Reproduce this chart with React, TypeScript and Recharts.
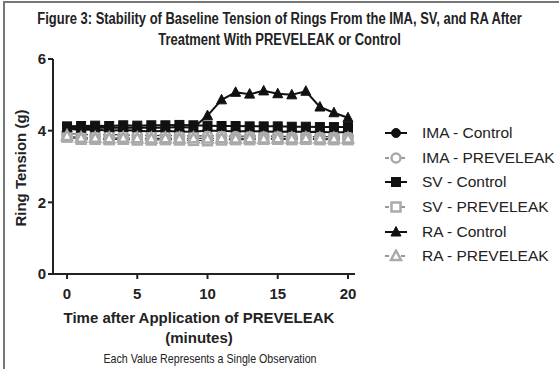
import React from 'react';
import { LineChart, Line, XAxis, YAxis } from 'recharts';

const minutes = [0, 1, 2, 3, 4, 5, 6, 7, 8, 9, 10, 11, 12, 13, 14, 15, 16, 17, 18, 19, 20];
const imaControl = [4.05, 4.02, 4.03, 4.0, 4.02, 4.0, 3.98, 4.0, 3.97, 3.98, 4.0, 4.0, 3.98, 3.99, 3.98, 3.97, 3.98, 3.96, 3.97, 3.95, 3.96];
const imaPreveleak = [3.92, 3.9, 3.88, 3.9, 3.87, 3.88, 3.86, 3.87, 3.85, 3.86, 3.85, 3.86, 3.84, 3.85, 3.84, 3.85, 3.83, 3.84, 3.83, 3.84, 3.83];
const svControl = [4.12, 4.13, 4.14, 4.13, 4.15, 4.14, 4.15, 4.15, 4.16, 4.15, 4.14, 4.13, 4.13, 4.12, 4.12, 4.12, 4.11, 4.11, 4.1, 4.1, 4.1];
const svPreveleak = [3.82, 3.76, 3.76, 3.75, 3.76, 3.74, 3.74, 3.75, 3.74, 3.73, 3.72, 3.74, 3.75, 3.75, 3.76, 3.76, 3.75, 3.76, 3.75, 3.75, 3.75];
const raControl = [4.08, 4.07, 4.08, 4.08, 4.09, 4.08, 4.09, 4.08, 4.1, 4.08, 4.42, 4.86, 5.07, 5.02, 5.11, 5.03, 5.0, 5.1, 4.66, 4.5, 4.36];
const raPreveleak = [3.85, 3.8, 3.8, 3.79, 3.8, 3.79, 3.78, 3.79, 3.78, 3.79, 3.78, 3.79, 3.78, 3.79, 3.78, 3.79, 3.78, 3.79, 3.78, 3.78, 3.78];
const xTicks = [0, 5, 10, 15, 20];
const yTicks = [0, 2, 4, 6];

type Shape = 'circle' | 'square' | 'triangle';

const seriesDefs = [
  { key: 'imaControl', name: 'IMA - Control', values: imaControl, shape: 'circle' as Shape, color: '#111', filled: true, dashed: false },
  { key: 'imaPreveleak', name: 'IMA - PREVELEAK', values: imaPreveleak, shape: 'circle' as Shape, color: '#aaa', filled: false, dashed: true },
  { key: 'svControl', name: 'SV - Control', values: svControl, shape: 'square' as Shape, color: '#111', filled: true, dashed: false },
  { key: 'svPreveleak', name: 'SV - PREVELEAK', values: svPreveleak, shape: 'square' as Shape, color: '#aaa', filled: false, dashed: true },
  { key: 'raControl', name: 'RA - Control', values: raControl, shape: 'triangle' as Shape, color: '#111', filled: true, dashed: false },
  { key: 'raPreveleak', name: 'RA - PREVELEAK', values: raPreveleak, shape: 'triangle' as Shape, color: '#aaa', filled: false, dashed: true },
];

const data = minutes.map((m, i) => {
  const row: Record<string, number> = { t: m };
  seriesDefs.forEach((s) => { row[s.key] = s.values[i]; });
  return row;
});

const markerShape = (shape: Shape, cx: number, cy: number, color: string, filled: boolean) => {
  const fill = filled ? color : '#fff';
  const sw = filled ? 1 : 2.5;
  if (shape === 'circle') return <circle cx={cx} cy={cy} r={4.5} fill={fill} stroke={color} strokeWidth={sw} />;
  if (shape === 'square') return <rect x={cx - 4.5} y={cy - 4.5} width={9} height={9} fill={fill} stroke={color} strokeWidth={sw} />;
  return <polygon points={`${cx},${cy - 5.5} ${cx + 5},${cy + 4} ${cx - 5},${cy + 4}`} fill={fill} stroke={color} strokeWidth={sw} />;
};

const font = '"Liberation Sans", Arial, Helvetica, sans-serif';

export default function App() {
  return (
    <div style={{ position: 'absolute', left: 0, top: 0, width: 559, height: 369, background: '#fff', overflow: 'hidden' }}>
      <div style={{ position: 'absolute', left: 3, top: 1, width: 600, height: 400, borderTop: '2px solid #777', borderLeft: '2px solid #777' }} />
      <div style={{ position: 'absolute', left: -100, top: 8, width: 759, textAlign: 'center', fontFamily: font, fontWeight: 'bold', fontSize: 16, lineHeight: '21px', color: '#222', transform: 'scaleX(0.81)', whiteSpace: 'nowrap' }}>
        Figure 3: Stability of Baseline Tension of Rings From the IMA, SV, and RA After<br />
        Treatment With PREVELEAK or Control
      </div>
      <div style={{ position: 'absolute', left: 0, top: 0 }}>
        <LineChart width={559} height={369} data={data} margin={{ top: 59, right: 204, bottom: 65, left: 0 }}>
          <XAxis
            dataKey="t"
            type="number"
            domain={[-1, 20.5]}
            ticks={xTicks}
            allowDataOverflow
            stroke="#222"
            strokeWidth={2}
            tickSize={5}
            tickMargin={9}
            height={30}
            tick={{ fill: '#222', fontSize: 15, fontWeight: 'bold', fontFamily: font }}
          />
          <YAxis
            type="number"
            domain={[0, 6]}
            ticks={yTicks}
            stroke="#222"
            strokeWidth={2}
            tickSize={5}
            width={53}
            tick={{ fill: '#222', fontSize: 15, fontWeight: 'bold', fontFamily: font }}
          />
          {seriesDefs.map((s) => (
            <Line
              key={s.key}
              dataKey={s.key}
              name={s.name}
              type="linear"
              stroke={s.dashed ? '#333' : '#111'}
              strokeWidth={s.dashed ? 1.2 : 2}
              strokeDasharray={s.dashed ? '3 3' : undefined}
              isAnimationActive={false}
              dot={(p: any) => <g key={`${s.key}-${p.index}`}>{markerShape(s.shape, p.cx, p.cy, s.color, s.filled)}</g>}
              activeDot={false}
            />
          ))}
        </LineChart>
      </div>
      <div style={{ position: 'absolute', left: 384, top: 121, fontFamily: font, fontSize: 15.5, color: '#222' }}>
        {seriesDefs.map((s) => (
          <div key={s.key} style={{ display: 'flex', alignItems: 'center', height: 24.6 }}>
            <svg width={26} height={14} style={{ marginRight: 12 }}>
              <line x1={1} y1={7} x2={23} y2={7} stroke={s.dashed ? '#999' : '#111'} strokeWidth={2} strokeDasharray={s.dashed ? '4 4' : undefined} />
              {markerShape(s.shape, 12, 7, s.color, s.filled)}
            </svg>
            <span>{s.name}</span>
          </div>
        ))}
      </div>
      <div style={{ position: 'absolute', left: 20, top: 168, transform: 'translate(-50%, -50%) rotate(-90deg)', whiteSpace: 'nowrap', fontFamily: font, fontWeight: 'bold', fontSize: 15, color: '#222' }}>
        Ring Tension (g)
      </div>
      <div style={{ position: 'absolute', left: 49, top: 308, width: 300, textAlign: 'center', fontFamily: font, fontWeight: 'bold', fontSize: 15, lineHeight: '20px', color: '#222' }}>
        Time after Application of PREVELEAK<br />(minutes)
      </div>
      <div style={{ position: 'absolute', left: 60, top: 351, width: 300, textAlign: 'center', fontFamily: font, fontSize: 13, color: '#222', transform: 'scaleX(0.82)', whiteSpace: 'nowrap' }}>
        Each Value Represents a Single Observation
      </div>
    </div>
  );
}
